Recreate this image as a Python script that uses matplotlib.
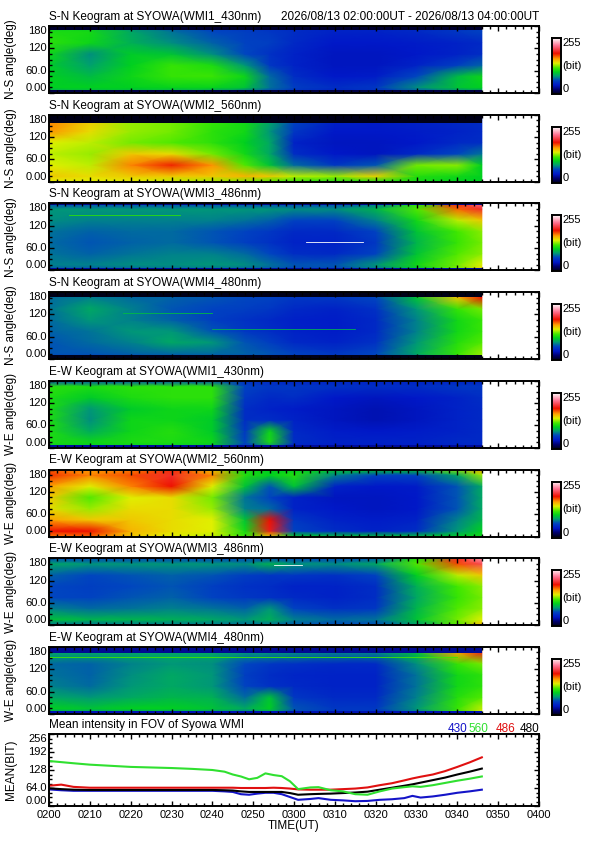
import numpy as np
import matplotlib
matplotlib.use('Agg')
import matplotlib.pyplot as plt
from matplotlib.colors import LinearSegmentedColormap
from matplotlib.ticker import MultipleLocator

plt.rcParams['font.family'] = ['Liberation Sans', 'DejaVu Sans']

# ---------------- data ----------------
TIMES = [0, 10, 20, 30, 40, 48, 54, 60, 70, 80, 90, 100, 106]   # minutes after 02:00 UT
ANGLES = [0, 15, 45, 75, 105, 135, 165, 180]                     # deg

KEO_SN_430 = [
    [82, 88, 88, 85, 78, 66, 58, 50, 45, 50, 60, 72, 72],
    [100, 100, 100, 102, 102, 95, 72, 58, 50, 55, 78, 95, 100],
    [100, 92, 104, 115, 116, 104, 70, 50, 40, 42, 62, 92, 104],
    [98, 82, 100, 115, 108, 80, 55, 45, 38, 38, 45, 58, 68],
    [104, 78, 98, 95, 78, 62, 52, 45, 38, 38, 40, 45, 50],
    [112, 104, 88, 78, 68, 60, 58, 48, 40, 40, 42, 45, 48],
    [108, 106, 85, 72, 62, 58, 55, 50, 45, 45, 48, 55, 60],
    [95, 95, 78, 65, 58, 55, 52, 48, 45, 45, 48, 52, 55],
]
KEO_SN_560 = [
    [140, 140, 140, 135, 130, 125, 118, 110, 105, 105, 105, 100, 100],
    [150, 145, 150, 150, 150, 155, 150, 135, 130, 148, 110, 105, 100],
    [140, 135, 165, 182, 162, 120, 95, 70, 55, 65, 125, 128, 100],
    [135, 130, 150, 145, 125, 105, 85, 50, 40, 38, 48, 62, 72],
    [140, 135, 125, 120, 112, 100, 85, 45, 38, 38, 40, 48, 50],
    [162, 145, 130, 125, 112, 105, 80, 55, 40, 40, 42, 45, 48],
    [165, 150, 130, 125, 115, 105, 85, 60, 45, 42, 45, 48, 50],
    [165, 150, 130, 125, 115, 105, 85, 60, 45, 42, 45, 48, 50],
]
KEO_SN_486 = [
    [65, 65, 68, 70, 70, 68, 65, 62, 62, 72, 95, 125, 150],
    [75, 75, 78, 78, 80, 78, 72, 65, 65, 80, 105, 125, 140],
    [72, 68, 72, 75, 75, 70, 62, 50, 48, 60, 95, 120, 128],
    [70, 65, 68, 70, 65, 58, 52, 45, 45, 55, 90, 115, 125],
    [72, 68, 70, 70, 65, 60, 55, 48, 48, 60, 95, 118, 128],
    [78, 75, 75, 75, 75, 72, 68, 60, 60, 75, 105, 135, 150],
    [80, 80, 80, 80, 80, 80, 80, 78, 78, 90, 120, 170, 195],
    [60, 60, 60, 60, 60, 60, 60, 60, 60, 70, 110, 190, 220],
]
KEO_SN_480 = [
    [55, 55, 55, 55, 55, 55, 55, 50, 50, 55, 70, 110, 130],
    [65, 65, 68, 70, 70, 68, 65, 60, 55, 62, 85, 115, 130],
    [65, 70, 75, 85, 80, 65, 58, 48, 45, 52, 80, 110, 120],
    [68, 72, 80, 80, 65, 55, 50, 45, 42, 48, 75, 105, 115],
    [70, 80, 75, 68, 58, 52, 48, 44, 42, 48, 75, 105, 115],
    [72, 85, 75, 65, 60, 58, 55, 48, 45, 52, 80, 115, 125],
    [70, 75, 70, 68, 65, 62, 60, 55, 55, 62, 95, 150, 185],
    [70, 75, 70, 68, 65, 62, 60, 55, 55, 62, 95, 150, 185],
]
KEO_EW_430 = [
    [98, 98, 98, 98, 92, 55, 75, 45, 42, 42, 42, 45, 45],
    [108, 104, 108, 108, 104, 60, 108, 50, 45, 45, 45, 48, 48],
    [108, 86, 104, 110, 98, 55, 104, 48, 42, 40, 42, 45, 48],
    [108, 78, 104, 104, 98, 50, 50, 45, 38, 35, 38, 45, 48],
    [108, 80, 98, 104, 104, 50, 45, 42, 38, 35, 38, 45, 48],
    [108, 98, 108, 112, 112, 55, 48, 50, 40, 38, 40, 45, 50],
    [112, 108, 112, 112, 112, 60, 55, 55, 52, 50, 50, 55, 55],
    [60, 60, 60, 60, 60, 50, 48, 45, 45, 45, 45, 45, 45],
]
KEO_EW_560 = [
    [165, 170, 150, 140, 135, 115, 150, 100, 95, 95, 95, 100, 105],
    [185, 185, 155, 145, 140, 105, 190, 60, 50, 45, 50, 80, 100],
    [160, 150, 150, 145, 140, 95, 185, 55, 45, 42, 45, 75, 90],
    [145, 130, 145, 145, 130, 75, 70, 45, 40, 38, 40, 65, 85],
    [150, 120, 140, 145, 125, 72, 60, 45, 38, 38, 40, 65, 85],
    [160, 140, 165, 185, 140, 95, 65, 95, 45, 40, 42, 65, 85],
    [180, 165, 175, 195, 165, 110, 100, 110, 75, 60, 60, 85, 130],
    [170, 160, 165, 180, 150, 105, 100, 100, 100, 100, 100, 130, 160],
]
KEO_EW_486 = [
    [70, 70, 72, 72, 72, 70, 70, 65, 62, 62, 80, 120, 155],
    [95, 90, 90, 88, 85, 80, 88, 75, 70, 72, 95, 125, 140],
    [75, 70, 72, 75, 72, 68, 80, 60, 52, 55, 90, 120, 128],
    [62, 60, 65, 68, 60, 55, 52, 48, 45, 50, 85, 115, 125],
    [62, 58, 62, 65, 58, 52, 50, 45, 45, 50, 88, 118, 128],
    [68, 62, 65, 68, 65, 58, 55, 55, 52, 60, 100, 135, 150],
    [85, 80, 80, 80, 80, 78, 90, 80, 78, 85, 120, 175, 205],
    [60, 60, 60, 60, 60, 60, 60, 60, 60, 65, 110, 195, 230],
]
KEO_EW_480 = [
    [80, 80, 80, 80, 78, 72, 80, 62, 55, 55, 72, 115, 145],
    [100, 95, 100, 100, 95, 85, 100, 65, 55, 55, 80, 115, 135],
    [85, 80, 85, 90, 88, 70, 95, 55, 48, 48, 75, 110, 120],
    [75, 70, 80, 85, 80, 60, 52, 48, 45, 45, 72, 105, 112],
    [72, 68, 78, 85, 80, 58, 50, 46, 45, 45, 72, 105, 112],
    [70, 68, 75, 80, 78, 62, 55, 52, 48, 48, 78, 115, 125],
    [85, 85, 85, 85, 85, 80, 80, 78, 75, 75, 95, 160, 190],
    [40, 40, 40, 40, 40, 40, 40, 40, 40, 40, 50, 80, 100],
]

PANEL_TITLES = [
    "S-N Keogram at SYOWA(WMI1_430nm)", "S-N Keogram at SYOWA(WMI2_560nm)",
    "S-N Keogram at SYOWA(WMI3_486nm)", "S-N Keogram at SYOWA(WMI4_480nm)",
    "E-W Keogram at SYOWA(WMI1_430nm)", "E-W Keogram at SYOWA(WMI2_560nm)",
    "E-W Keogram at SYOWA(WMI3_486nm)", "E-W Keogram at SYOWA(WMI4_480nm)",
]
PANEL_YLABELS = ["N-S angle(deg)"] * 4 + ["W-E angle(deg)"] * 4

# dark out-of-view bands at the edges of the field of view (angle, level in bit)
TOP_BAND_START = [170, 157, 177, 166, 176, 180, 177, 163]
TOP_BAND_LEVEL = [5, 0, 25, 0, 30, 0, 30, 28]
BOTTOM_BAND_END = [7, 0, 6, 12, 7, 0, 4, 7]
BOTTOM_BAND_LEVEL = [10, 0, 30, 0, 30, 0, 30, 35]

# thin streaks seen in the keograms
STREAK_PANEL = [2, 2, 3, 3, 6, 7]
STREAK_T0 = [5, 63, 18, 40, 55, 0]
STREAK_T1 = [32, 77, 40, 75, 62, 100]
STREAK_ANGLE = [150, 75, 125, 80, 162, 152]
STREAK_LEVEL = [112, 255, 92, 88, 255, 118]

DATA_END = 106
XTICK_LABELS = ["0200", "0210", "0220", "0230", "0240", "0250", "0300",
                "0310", "0320", "0330", "0340", "0350", "0400"]

# mean intensity lines
LINE_T = [0, 3, 6, 10, 15, 20, 25, 30, 35, 40, 43, 45, 47, 49, 51, 53, 55, 57, 59, 61,
          64, 66, 69, 72, 75, 78, 81, 84, 87, 89, 91, 94, 97, 100, 103, 106]
MEAN_430 = [59, 56, 54, 54, 54, 54, 54, 54, 54, 54, 52, 50, 42, 40, 44, 47, 47, 42, 32, 22,
            25, 28, 22, 20, 17, 18, 22, 24, 28, 36, 30, 34, 40, 47, 52, 58]
MEAN_560 = [160, 156, 152, 147, 143, 139, 137, 135, 132, 128, 122, 112, 105, 95, 100, 116, 110, 106, 88, 60,
            66, 67, 56, 52, 42, 40, 52, 62, 67, 70, 68, 74, 82, 90, 97, 105]
MEAN_486 = [72, 76, 68, 65, 65, 65, 65, 65, 65, 65, 65, 65, 64, 64, 64, 64, 65, 64, 62, 59,
            58, 58, 58, 60, 62, 66, 74, 81, 91, 98, 104, 112, 124, 139, 155, 173]
MEAN_480 = [63, 60, 58, 57, 57, 57, 57, 57, 57, 57, 56, 55, 52, 50, 50, 50, 50, 50, 46, 40,
            42, 43, 44, 46, 48, 51, 58, 65, 72, 77, 83, 92, 101, 112, 122, 133]

# ---------------- style ----------------
CMAP_NODES = [(0, '#000018'), (20, '#00006e'), (40, '#0018c8'), (62, '#0046c0'),
              (82, '#00a070'), (100, '#00d020'), (118, '#40e800'), (140, '#e0f000'),
              (160, '#ffa000'), (185, '#ee1000'), (220, '#ff7090'), (255, '#ffffff')]
cmap = LinearSegmentedColormap.from_list('keo', [(v / 255.0, c) for v, c in CMAP_NODES])

W, H = 595, 842
fig = plt.figure(figsize=(W / 100, H / 100), dpi=100)

AX_L, AX_R = 49, 539
FS = 8.0      # tick labels
TFS = 8.5     # titles / axis labels


def fx(px):
    return px / W


def fy(py):
    return 1 - py / H


def style_axes(ax, ymajor, yminor):
    for sp in ax.spines.values():
        sp.set_linewidth(1.4)
    ax.xaxis.set_major_locator(MultipleLocator(10))
    ax.xaxis.set_minor_locator(MultipleLocator(2))
    ax.yaxis.set_major_locator(MultipleLocator(ymajor))
    ax.yaxis.set_minor_locator(MultipleLocator(yminor))
    ax.tick_params(which='both', direction='in', top=True, right=True, width=1.0,
                   labelsize=FS, pad=1.5)
    ax.tick_params(which='major', length=3.5)
    ax.tick_params(which='minor', length=2)


keos = [KEO_SN_430, KEO_SN_560, KEO_SN_486, KEO_SN_480,
        KEO_EW_430, KEO_EW_560, KEO_EW_486, KEO_EW_480]

for i, Z in enumerate(keos):
    top = 26 + 88.7 * i
    bot = top + 67
    ax = fig.add_axes([fx(AX_L), fy(bot), fx(AX_R - AX_L), (bot - top) / H])
    ax.pcolormesh(TIMES, ANGLES, np.array(Z, dtype=float), shading='gouraud',
                  cmap=cmap, vmin=0, vmax=255, rasterized=True)
    if TOP_BAND_START[i] < 180:
        ax.fill_between([0, DATA_END], TOP_BAND_START[i], 180,
                        color=cmap(TOP_BAND_LEVEL[i] / 255), linewidth=0)
    if BOTTOM_BAND_END[i] > 0:
        ax.fill_between([0, DATA_END], 0, BOTTOM_BAND_END[i],
                        color=cmap(BOTTOM_BAND_LEVEL[i] / 255), linewidth=0)
    for p, t0, t1, a, lv in zip(STREAK_PANEL, STREAK_T0, STREAK_T1, STREAK_ANGLE, STREAK_LEVEL):
        if p == i:
            ax.plot([t0, t1], [a, a], color=cmap(lv / 255), lw=0.6)
    ax.set_xlim(0, 120)
    ax.set_ylim(0, 180)
    style_axes(ax, 60, 15)
    ax.set_xticklabels([])
    ax.set_yticks([0, 60, 120, 180])
    ax.set_yticklabels(['0.00', '60.0', '120', '180'])
    for lab, va in zip(ax.get_yticklabels(), ['bottom', 'center', 'center', 'top']):
        lab.set_verticalalignment(va)
    fig.text(fx(AX_L), fy(top - 6), PANEL_TITLES[i], ha='left', va='baseline', fontsize=TFS)
    ax.set_ylabel(PANEL_YLABELS[i], fontsize=TFS)
    ax.yaxis.set_label_coords(-0.066, 0.5)
    if i == 0:
        fig.text(fx(AX_R), fy(top - 6), "2026/08/13 02:00:00UT - 2026/08/13 04:00:00UT",
                 ha='right', va='baseline', fontsize=TFS)
    # colorbar
    cb_top = top + 12
    cax = fig.add_axes([fx(552), fy(bot + 1), fx(9), (bot + 1 - cb_top) / H])
    cax.imshow(np.linspace(0, 255, 256).reshape(-1, 1), cmap=cmap, vmin=0, vmax=255,
               aspect='auto', origin='lower')
    cax.set_xticks([])
    cax.set_yticks([])
    for sp in cax.spines.values():
        sp.set_linewidth(1.4)
    cax.text(1.15, 1.0, "255", transform=cax.transAxes, ha='left', va='top', fontsize=FS)
    cax.text(1.15, 0.5, "(bit)", transform=cax.transAxes, ha='left', va='center', fontsize=FS)
    cax.text(1.15, 0.0, "0", transform=cax.transAxes, ha='left', va='bottom', fontsize=FS)

# mean intensity panel
top, bot = 734, 806
ax = fig.add_axes([fx(AX_L), fy(bot), fx(AX_R - AX_L), (bot - top) / H])
ax.plot(LINE_T, MEAN_430, color='#1414c8', lw=1.5)
ax.plot(LINE_T, MEAN_480, color='black', lw=1.5)
ax.plot(LINE_T, MEAN_486, color='#e01010', lw=1.5)
ax.plot(LINE_T, MEAN_560, color='#30e030', lw=1.5)
ax.set_xlim(0, 120)
ax.set_ylim(0, 256)
style_axes(ax, 64, 16)
ax.set_xticks(np.arange(0, 121, 10))
ax.set_xticklabels(XTICK_LABELS)
ax.tick_params(axis='x', pad=3)
ax.set_yticks([0, 64, 128, 192, 256])
ax.set_yticklabels(['0.00', '64.0', '128', '192', '256'])
for lab, va in zip(ax.get_yticklabels(), ['bottom', 'center', 'center', 'center', 'top']):
    lab.set_verticalalignment(va)
ax.set_ylabel("MEAN(BIT)", fontsize=TFS)
ax.yaxis.set_label_coords(-0.066, 0.5)
ax.set_xlabel("TIME(UT)", fontsize=TFS, labelpad=0)
fig.text(fx(AX_L), fy(top - 6), "Mean intensity in FOV of Syowa WMI",
         ha='left', va='baseline', fontsize=TFS)
for x, s, c in [(467, "430", '#1414c8'), (488, "560", '#30e030'),
                (515, "486", '#e01010'), (539, "480", 'black')]:
    fig.text(fx(x), fy(732), s, ha='right', va='baseline', color=c, fontsize=TFS)

fig.savefig("out.png", dpi=100)
